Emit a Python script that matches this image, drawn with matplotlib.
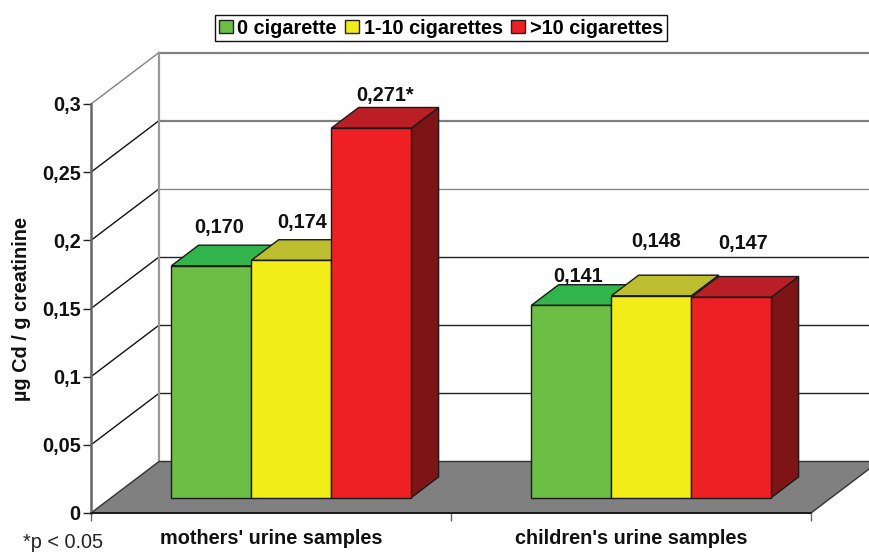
import matplotlib
matplotlib.use("Agg")
import matplotlib.pyplot as plt
from matplotlib.patches import Polygon, Patch

plt.rcParams['font.family'] = ['Liberation Sans', 'DejaVu Sans']
plt.rcParams['font.size'] = 14.3
plt.rcParams['font.weight'] = 'bold'

groups = ["mothers' urine samples", "children's urine samples"]
series = ['0 cigarette', '1-10 cigarettes', '>10 cigarettes']
values = [[0.170, 0.174, 0.271],
          [0.141, 0.148, 0.147]]
value_labels = [['0,170', '0,174', '0,271*'],
                ['0,141', '0,148', '0,147']]
y_ticks = [0, 0.05, 0.1, 0.15, 0.2, 0.25, 0.3]
y_tick_labels = ['0', '0,05', '0,1', '0,15', '0,2', '0,25', '0,3']

front_colors = ['#6CBE45', '#F2EC18', '#EF2024']
top_colors = ['#31B44B', '#BDBE2F', '#BB1F25']
side_colors = ['#3F7A2A', '#8F8C10', '#7F1416']

# hand placed label offsets (pixels, from the top centre of each bar)
label_shift = [[(8, 38.5), (10.5, 37.5), (14, 32.5)],
               [(6.5, 29), (5, 54.5), (12, 54)]]

fig = plt.figure(figsize=(8.69, 5.52), dpi=100)
ax = fig.add_axes([0, 0, 1, 1])

# one group is 360 px wide, one unit of y is 1363.3 px
x_px = 360.0
y_px = 409.0 / 0.3
ax.set_xlim(-91 / x_px, (869 - 91) / x_px)
ax.set_ylim(-39 / y_px, 513 / y_px)

# oblique offset of the back wall
DX = 68 / x_px
DY = 51.5 / y_px


def proj(x, v, z):
    return (x + z * DX, v + z * DY)


def poly(pts, color, z, edge='#1a1a1a', lw=1.0):
    ax.add_patch(Polygon(pts, closed=True, facecolor=color, edgecolor=edge,
                         lw=lw, zorder=z, joinstyle='miter'))


n_groups = len(groups)

# floor
poly([proj(0, 0, 0), proj(n_groups, 0, 0), proj(n_groups, 0, 1), proj(0, 0, 1)],
     '#808080', 1, edge='#333333', lw=1.0)

# back wall and left wall lines
for v in y_ticks:
    if v == 0:
        continue
    c = '#808080' if v >= 0.25 else '#222222'
    if v == 0.2:
        c = '#8a8a8a'
    lw = 1.6 if v >= 0.25 else 1.0
    x0, y0 = proj(0, v, 1)
    x1, y1 = proj(n_groups, v, 1)
    ax.plot([x0, x1], [y0, y1], color=c, lw=lw, zorder=0.5)
    x2, y2 = proj(0, v, 0)
    diag = '#808080' if v == 0.3 else '#111111'
    ax.plot([x2, x0], [y2, y0], color=diag, lw=1.0, zorder=0.5)
x0, y0 = proj(0, 0, 1)
x1, y1 = proj(0, 0.3, 1)
ax.plot([x0, x1], [y0, y1], color='#999999', lw=1.6, zorder=0.5)

# bars, front at z=0.3 and back at z=0.7
bar_w = 80 / x_px
z_front = 0.3
z_back = 0.7
for g in range(n_groups):
    for s in range(len(series)):
        left = g + 0.5 - 1.5 * bar_w + s * bar_w
        right = left + bar_w
        h = values[g][s]
        poly([proj(right, 0, z_front), proj(right, 0, z_back),
              proj(right, h, z_back), proj(right, h, z_front)],
             side_colors[s], 2 + s * 0.1 + g)
        poly([proj(left, h, z_front), proj(right, h, z_front),
              proj(right, h, z_back), proj(left, h, z_back)],
             top_colors[s], 2 + s * 0.1 + g)
        poly([proj(left, 0, z_front), proj(right, 0, z_front),
              proj(right, h, z_front), proj(left, h, z_front)],
             front_colors[s], 2 + s * 0.1 + g)
        ax.annotate(value_labels[g][s], xy=proj((left + right) / 2, h, z_front),
                    xytext=label_shift[g][s], textcoords='offset pixels',
                    ha='center', va='center', color='#111111', zorder=10)

# axes lines
for name in ['top', 'right']:
    ax.spines[name].set_visible(False)
ax.spines['left'].set_position(('data', 0))
ax.spines['left'].set_bounds(0, 0.3)
ax.spines['left'].set_color('#666666')
ax.spines['left'].set_linewidth(1.8)
ax.spines['bottom'].set_position(('data', 0))
ax.spines['bottom'].set_bounds(0, n_groups)
ax.spines['bottom'].set_color('#111111')
ax.spines['bottom'].set_linewidth(1.2)
ax.spines['bottom'].set_zorder(5)

ax.set_yticks(y_ticks)
ax.set_yticklabels(y_tick_labels)
ax.tick_params(axis='y', length=6, width=1, color='#222222', pad=1.5, labelcolor='#111111')
ax.set_xticks(range(n_groups + 1))
ax.set_xticklabels([])
ax.tick_params(axis='x', length=6, width=1, color='#666666')

for g in range(n_groups):
    ax.text(g + 0.5, -26 / y_px, groups[g], ha='center', va='center', color='#111111')

ax.text(-69 / x_px, 204 / y_px, '\u00b5g Cd / g creatinine', rotation=90,
        ha='center', va='center', color='#111111')
ax.text(23 / 869, 9 / 552, '*p < 0.05', transform=ax.transAxes, fontweight='normal',
        ha='left', va='center', color='#222222')

handles = [Patch(facecolor=front_colors[i], edgecolor='#222222', lw=1) for i in range(len(series))]
leg = ax.legend(handles, series, ncol=3, loc='center', bbox_to_anchor=(441 / 869, 1 - 28 / 552),
                frameon=True, fancybox=False, framealpha=1, edgecolor='#111111',
                handlelength=0.68, handleheight=0.68, handletextpad=0.25, columnspacing=0.42,
                borderpad=0.18, borderaxespad=0)
leg.get_frame().set_linewidth(1.0)
leg.set_zorder(20)

fig.savefig('out.png', dpi=100)
